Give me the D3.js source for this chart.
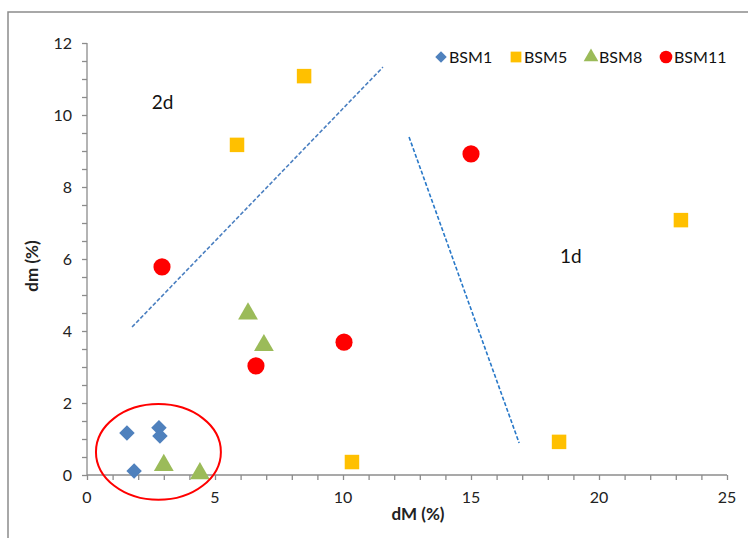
<!DOCTYPE html>
<html><head><meta charset="utf-8">
<script src="https://cdn.jsdelivr.net/npm/d3@7"></script>
<style>body{margin:0;background:#fff}svg{display:block}text{font-family:Lato,"Open Sans",sans-serif}</style>
</head><body>
<svg id="c" width="748" height="538"></svg>
<script>
// Data
const bsm1 = [[1.56,1.17],[1.84,0.11],[2.81,1.31],[2.85,1.08]];
const bsm5 = [[8.48,11.08],[5.86,9.17],[10.35,0.36],[18.44,0.92],[23.2,7.08]];
const bsm8 = [[6.29,4.48],[6.91,3.6],[3.0,0.27],[4.41,0.04]];
const bsm11 = [[2.93,5.78],[15.0,8.92],[10.04,3.69],[6.6,3.03]];
const line2d = [[1.76,4.11],[11.56,11.33]];
const line1d = [[12.58,9.39],[16.88,0.89]];
const ellipseC = [2.79,0.64], ellipseR = [2.44,1.33];
const xTicks = [0,5,10,15,20,25];
const yTicks = [0,2,4,6,8,10,12];
const seriesNames = ["BSM1","BSM5","BSM8","BSM11"];

const svg = d3.select("#c");
const x = d3.scaleLinear().domain([0,25]).range([87,727]);
const y = d3.scaleLinear().domain([0,12]).range([475,43]);

// outer frame
svg.append("path").attr("d","M8,538V12H748").attr("fill","none").attr("stroke","#8c8c8c").attr("stroke-width",1.5);

// axes
const axisColor="#8c8c8c";
const gx = svg.append("g").attr("transform","translate(0,475)");
gx.call(d3.axisBottom(x).ticks(25).tickSize(5).tickFormat(""));
const gy = svg.append("g").attr("transform","translate(87,0)");
gy.call(d3.axisLeft(y).ticks(24).tickSize(5).tickFormat(""));
[gx,gy].forEach(g=>{g.selectAll("path,line").attr("stroke",axisColor).attr("stroke-width",1.3);g.select(".domain").attr("d",g===gx?"M87,0H727":"M0,43V475");});

svg.append("g").selectAll("text").data(xTicks).join("text")
  .attr("x",d=>x(d)).attr("y",503).attr("text-anchor","middle")
  .attr("font-size",16).attr("fill","#222").text(d=>d);
svg.append("g").selectAll("text").data(yTicks).join("text")
  .attr("x",72).attr("y",d=>y(d)+5.5).attr("text-anchor","end")
  .attr("font-size",16).attr("fill","#222").text(d=>d);

svg.append("text").attr("x",418).attr("y",520).attr("text-anchor","middle")
  .attr("font-size",17).attr("font-weight","bold").attr("fill","#222").text("dM (%)");
svg.append("text").attr("transform","translate(38,266) rotate(-90)").attr("text-anchor","middle")
  .attr("font-size",17).attr("font-weight","bold").attr("fill","#222").text("dm (%)");

// dashed lines
const ln = d3.line().x(d=>x(d[0])).y(d=>y(d[1]));
[line2d,line1d].forEach((L,i)=>svg.append("path").attr("d",ln(L)).attr("fill","none")
  .attr("stroke",i?"#2878c8":"#4a7fc0").attr("stroke-width",1.6).attr("stroke-dasharray","4,2"));

// region labels
svg.append("text").attr("x",x(2.95)).attr("y",y(10.35)+7).attr("font-size",19).attr("fill","#111").attr("text-anchor","middle").text("2d");
svg.append("text").attr("x",x(18.9)).attr("y",y(6.05)+6).attr("font-size",19).attr("fill","#111").attr("text-anchor","middle").text("1d");

// markers
const sym = {
  BSM1:{type:d3.symbolSquare,size:120,color:"#4f81bd",rot:45},
  BSM5:{type:d3.symbolSquare,size:210,color:"#ffc000",rot:0},
  BSM8:{type:d3.symbolTriangle,size:170,color:"#9bbb59",rot:0},
  BSM11:{type:d3.symbolCircle,size:230,color:"#ff0000",rot:0}
};
const data = {BSM1:bsm1,BSM5:bsm5,BSM8:bsm8,BSM11:bsm11};
seriesNames.forEach(n=>{
  const s=sym[n];
  svg.append("g").selectAll("path").data(data[n]).join("path")
    .attr("d",d3.symbol().type(s.type).size(s.size))
    .attr("transform",d=>`translate(${x(d[0])},${y(d[1])}) rotate(${s.rot})`)
    .attr("fill",s.color);
});

// ellipse
svg.append("ellipse").attr("cx",x(ellipseC[0])).attr("cy",y(ellipseC[1]))
  .attr("rx",x(ellipseR[0])-x(0)).attr("ry",y(0)-y(ellipseR[1]))
  .attr("fill","none").attr("stroke","#ff0000").attr("stroke-width",2);

// legend
const legX=[441,516,591,666];
const lg = svg.append("g");
seriesNames.forEach((n,i)=>{
  const s=sym[n];
  lg.append("path").attr("d",d3.symbol().type(s.type).size(s.size*0.55)())
    .attr("transform",`translate(${legX[i]},57) rotate(${s.rot})`).attr("fill",s.color);
  lg.append("text").attr("x",legX[i]+8).attr("y",62.5).attr("font-size",16).attr("fill","#111").text(n);
});
</script>
</body></html>
